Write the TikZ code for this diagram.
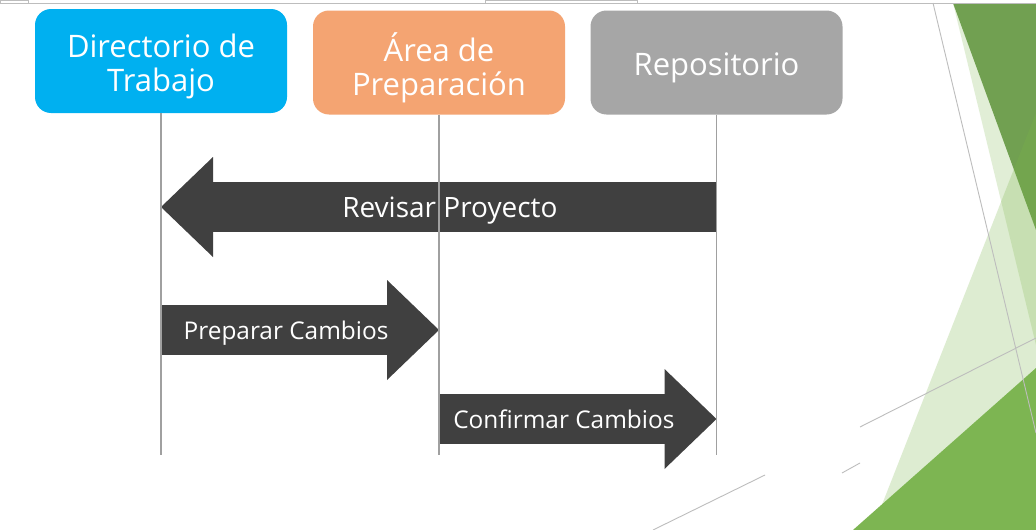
\documentclass[tikz,border=0pt]{standalone}
\usepackage{fontspec}
\setmainfont{Open Sans}
\usetikzlibrary{arrows.meta}

\definecolor{dirblue}{HTML}{00B0F0}
\definecolor{areaorange}{HTML}{F4A472}
\definecolor{repogray}{HTML}{A6A6A6}
\definecolor{arrowgray}{HTML}{404040}
\definecolor{lifegray}{HTML}{A0A0A0}
\definecolor{framegray}{HTML}{BDBDBD}
\definecolor{leafdark}{HTML}{71A051}
\definecolor{leafbright}{HTML}{7DB552}
\definecolor{leaflight}{HTML}{7AB648}

\tikzset{
  stage/.style={rectangle, rounded corners=16pt, minimum width=252pt,
    minimum height=104pt},
  stagetext/.style={text=white, align=center, yshift=-5pt,
    font=\fontsize{31}{34}\selectfont},
  lifeline/.style={draw=lifegray, line width=1.2pt},
  bigarrow/.style={draw=arrowgray, line width=50pt,
    -{Triangle[length=52pt,width=100pt,line width=0pt]}},
  arrowtext/.style={text=white, yshift=-3pt,
    font=\fontsize{24.4}{28}\selectfont},
  thinline/.style={draw=framegray, line width=0.9pt}
}

\begin{document}
\begin{tikzpicture}[x=1pt,y=-1pt]
  \useasboundingbox[fill=white] (0,0) rectangle (1036,530);

  % slide decoration
  \fill[leaflight, opacity=0.22] (953,3) -- (1036,345) -- (1036,3) -- cycle;
  \fill[leafdark] (953,3) -- (1036,3) -- (1036,230) -- cycle;
  \fill[leaflight, opacity=0.25] (1036,113) -- (872,530) -- (1036,530) -- cycle;
  \fill[leafbright] (1036,368) -- (853,530) -- (1036,530) -- cycle;
  \draw[thinline] (933,3) -- (1036,433);
  \draw[thinline] (1036,338) -- (860,427);
  \draw[thinline] (765,475) -- (653,530);
  \draw[thinline] (860,463) -- (842,473);
  \draw[thinline] (0,3) -- (1036,3);
  \draw[thinline, fill=white] (0,0) rectangle (28,3);
  \draw[thinline, fill=white] (485,0) rectangle (637,3);

  % stages
  \node[stage, fill=dirblue, label={[stagetext, name=dirText]center:{Directorio de\\Trabajo}}]
    (dir) at (161,61) {};
  \node[stage, fill=areaorange, label={[stagetext, name=areaText]center:{Área de\\Preparación}}]
    (area) at (439,62.5) {};
  \node[stage, fill=repogray, label={[stagetext, name=repoText]center:{Repositorio}}]
    (repo) at (716.5,62.5) {};

  \coordinate (bottom) at (0,455);
  \coordinate (rowRev) at (0,207);
  \coordinate (rowPrep) at (0,330);
  \coordinate (rowConf) at (0,419);

  % operations
  \draw[bigarrow] (repo |- rowRev) -- node[arrowtext, pos=0.48, yshift=-1pt,
    font=\fontsize{28}{30}\selectfont] (revText) {Revisar Proyecto} (dir |- rowRev);
  \draw[bigarrow] (dir |- rowPrep) -- node[arrowtext, pos=0.45] (prepText)
    {Preparar Cambios} (area |- rowPrep);
  \draw[bigarrow] (area |- rowConf) -- node[arrowtext, pos=0.45, yshift=2.5pt] (confText)
    {Confirmar Cambios} (repo |- rowConf);

  \foreach \s in {dir,area,repo}
    \draw[lifeline] (\s.south) -- (\s |- bottom);
\end{tikzpicture}
\end{document}
